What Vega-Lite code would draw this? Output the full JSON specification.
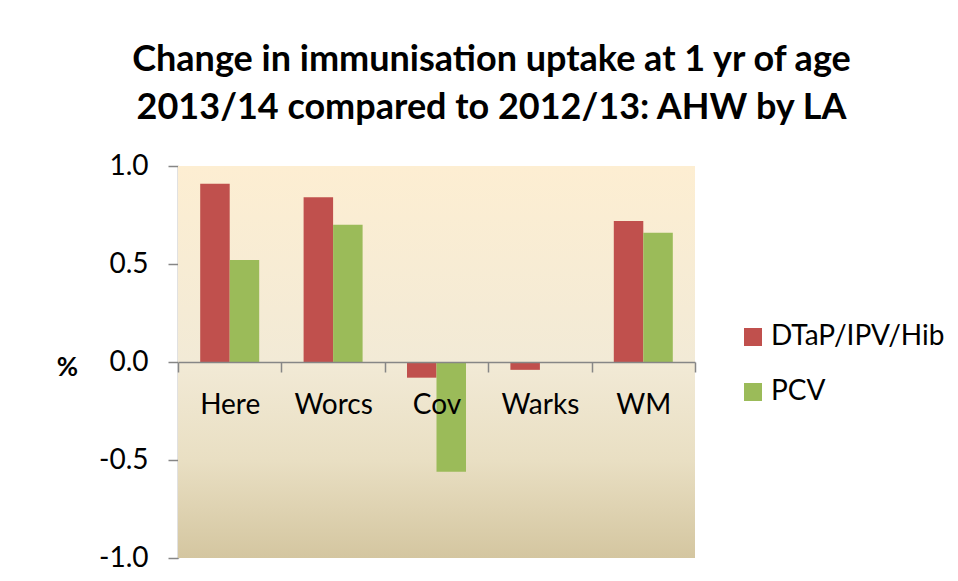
{
  "$schema": "https://vega.github.io/schema/vega-lite/v6.json",
  "width": 517,
  "height": 392,
  "autosize": {"type": "none"},
  "padding": {"left": 178, "top": 166, "right": 263, "bottom": 23},
  "background": "white",
  "title": {
    "text": ["Change in immunisation uptake at 1 yr of age", "2013/14 compared to 2012/13: AHW by LA"],
    "font": "Lato",
    "fontSize": 36,
    "fontWeight": "bold",
    "color": "black",
    "anchor": "middle",
    "dx": 55,
    "offset": 25,
    "lineHeight": 48
  },
  "config": {"view": {"stroke": null}, "font": "Lato"},
  "layer": [
    {
      "data": {"values": [{}]},
      "mark": {
        "type": "rect",
        "fill": {
          "gradient": "linear",
          "x1": 0, "y1": 0, "x2": 0, "y2": 1,
          "stops": [
            {"offset": 0, "color": "#FDEED2"},
            {"offset": 0.5, "color": "#F2EAD6"},
            {"offset": 0.75, "color": "#E9DFC3"},
            {"offset": 1, "color": "#D4C6A0"}
          ]
        }
      },
      "encoding": {}
    },
    {
      "data": {
        "values": [
          {"la": "Here", "vaccine": "DTaP/IPV/Hib", "value": 0.91},
          {"la": "Here", "vaccine": "PCV", "value": 0.52},
          {"la": "Worcs", "vaccine": "DTaP/IPV/Hib", "value": 0.84},
          {"la": "Worcs", "vaccine": "PCV", "value": 0.70},
          {"la": "Cov", "vaccine": "DTaP/IPV/Hib", "value": -0.08},
          {"la": "Cov", "vaccine": "PCV", "value": -0.56},
          {"la": "Warks", "vaccine": "DTaP/IPV/Hib", "value": -0.04},
          {"la": "Warks", "vaccine": "PCV", "value": 0.0},
          {"la": "WM", "vaccine": "DTaP/IPV/Hib", "value": 0.72},
          {"la": "WM", "vaccine": "PCV", "value": 0.66}
        ]
      },
      "mark": {"type": "bar"},
      "encoding": {
        "x": {
          "field": "la",
          "type": "nominal",
          "sort": ["Here", "Worcs", "Cov", "Warks", "WM"],
          "scale": {"paddingInner": 0, "paddingOuter": 0},
          "axis": {
            "title": null,
            "offset": -196,
            "zindex": 1,
            "tickBand": "extent",
            "tickSize": 10,
            "tickColor": "#868686",
            "tickWidth": 1.5,
            "domainColor": "#868686",
            "domainWidth": 1.5,
            "labelFont": "Lato",
            "labelFontSize": 28,
            "labelColor": "black",
            "labelAngle": 0,
            "labelBaseline": "alphabetic",
            "labelPadding": 41
          }
        },
        "xOffset": {
          "field": "vaccine",
          "type": "nominal",
          "sort": ["DTaP/IPV/Hib", "PCV"],
          "scale": {"paddingInner": 0, "paddingOuter": 0.7525}
        },
        "y": {
          "field": "value",
          "type": "quantitative",
          "scale": {"domain": [-1, 1], "nice": false},
          "axis": {
            "values": [-1, -0.5, 0, 0.5, 1],
            "labelExpr": "datum.value < 0 ? '-' + format(-datum.value, '.1f') : format(datum.value, '.1f')",
            "labelFont": "Lato",
            "labelFontSize": 28,
            "labelColor": "black",
            "labelPadding": 20,
            "grid": false,
            "tickSize": 10,
            "tickColor": "#868686",
            "tickWidth": 1.5,
            "domainColor": "#868686",
            "domainWidth": 1.5,
            "title": "%",
            "titleFont": "Lato",
            "titleFontSize": 26,
            "titleFontWeight": "bold",
            "titleColor": "black",
            "titleAngle": 0,
            "titleAlign": "center",
            "titleBaseline": "middle",
            "titleX": -111,
            "titleY": 201
          }
        },
        "color": {
          "field": "vaccine",
          "type": "nominal",
          "sort": ["DTaP/IPV/Hib", "PCV"],
          "scale": {"domain": ["DTaP/IPV/Hib", "PCV"], "range": ["#C0504D", "#9BBB59"]},
          "legend": {
            "orient": "none",
            "legendX": 561,
            "legendY": 157,
            "title": null,
            "symbolType": "square",
            "symbolSize": 324,
            "symbolStrokeWidth": 0,
            "labelFont": "Lato",
            "labelFontSize": 28,
            "labelColor": "black",
            "labelOffset": 4,
            "labelLimit": 400,
            "rowPadding": 27
          }
        }
      }
    }
  ]
}
